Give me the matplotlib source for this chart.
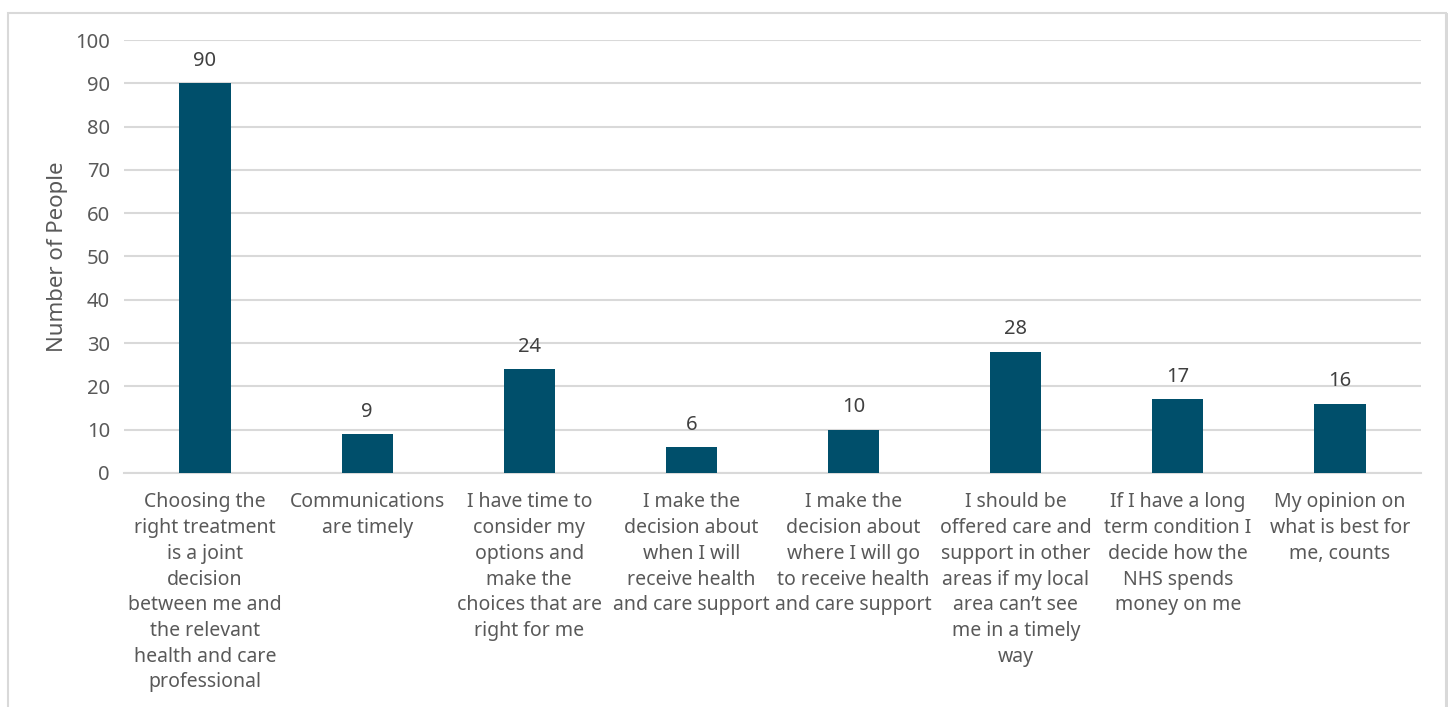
import matplotlib
matplotlib.use("Agg")
import matplotlib.pyplot as plt
from matplotlib.patches import Rectangle

categories = [
    "Choosing the\nright treatment\nis a joint\ndecision\nbetween me and\nthe relevant\nhealth and care\nprofessional",
    "Communications\nare timely",
    "I have time to\nconsider my\noptions and\nmake the\nchoices that are\nright for me",
    "I make the\ndecision about\nwhen I will\nreceive health\nand care support",
    "I make the\ndecision about\nwhere I will go\nto receive health\nand care support",
    "I should be\noffered care and\nsupport in other\nareas if my local\narea can\u2019t see\nme in a timely\nway",
    "If I have a long\nterm condition I\ndecide how the\nNHS spends\nmoney on me",
    "My opinion on\nwhat is best for\nme, counts",
]
counts = [90, 9, 24, 6, 10, 28, 17, 16]
y_ticks = list(range(0, 101, 10))

plt.rcParams["font.family"] = ["Noto Sans", "DejaVu Sans"]

fig = plt.figure(figsize=(14.53, 7.07), dpi=100)
ax = fig.add_axes([0.0853, 0.331, 0.8927, 0.6124])

x = list(range(len(categories)))
bars = ax.bar(x, counts, width=0.315, color="#004F6B", zorder=3)
ax.bar_label(bars, labels=[str(c) for c in counts], padding=9,
             fontsize=14.5, color="#404040")

ax.set_xlim(-0.5, len(categories) - 0.5)
ax.set_ylim(0, 100)
ax.set_yticks(y_ticks)
ax.set_xticks(x)
ax.set_xticklabels(categories, fontsize=14, color="#595959", linespacing=1.38)
ax.tick_params(axis="y", labelsize=14.5, labelcolor="#595959", length=0, pad=10)
ax.tick_params(axis="x", length=0, pad=14)

ax.grid(axis="y", color="#d9d9d9", linewidth=1.5, zorder=0)
for side in ("top", "right", "left"):
    ax.spines[side].set_visible(False)
ax.spines["bottom"].set_color("#d9d9d9")
ax.spines["bottom"].set_linewidth(1.5)

ax.set_ylabel("Number of People", fontsize=16, color="#595959", labelpad=5)

# light frame around the whole chart
fig.patches.append(Rectangle((8 / 1453, -0.05), (1446 - 8) / 1453, 1.05 - 12.5 / 707,
                             transform=fig.transFigure, fill=False,
                             edgecolor="#d9d9d9", linewidth=1.5))
fig.patches.append(Rectangle((1445 / 1453, 0), 3 / 1453, 1 - 12.5 / 707,
                             transform=fig.transFigure, fill=True,
                             facecolor="#d9d9d9", edgecolor="none"))

fig.savefig("out.png", dpi=100, facecolor="white")
